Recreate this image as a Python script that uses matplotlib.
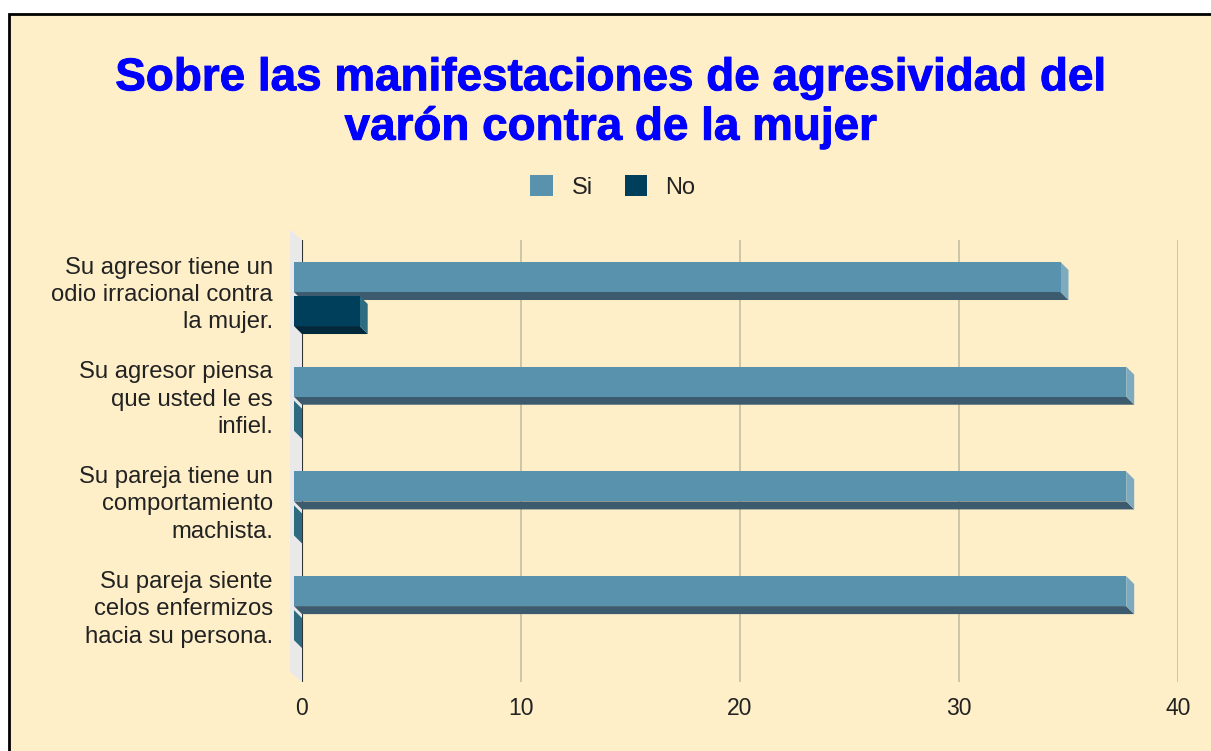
import matplotlib

matplotlib.use("Agg")
import matplotlib.pyplot as plt
import matplotlib.patheffects as pe
from matplotlib.patches import Rectangle, Patch

CATEGORIES = [
    "Su agresor tiene un\nodio irracional contra\nla mujer.",
    "Su agresor piensa\nque usted le es\ninfiel.",
    "Su pareja tiene un\ncomportamiento\nmachista.",
    "Su pareja siente\ncelos enfermizos\nhacia su persona.",
]
SI = [35, 38, 38, 38]
NO = [3, 0, 0, 0]
XTICKS = [0, 10, 20, 30, 40]
SERIES = ["Si", "No"]
TITLE = "Sobre las manifestaciones de agresividad del\nvarón contra de la mujer"

BG = "#feefc9"
# (front, bottom face, side face)
SI_COLS = ("#5992ad", "#3c5b6f", "#7eaac0")
NO_COLS = ("#003f5c", "#00283b", "#2d6b81")

plt.rcParams["font.family"] = ["Liberation Sans", "DejaVu Sans"]

W, H = 1211, 751
fig = plt.figure(figsize=(W / 100, H / 100), dpi=100)
fig.patch.set_facecolor("white")
fig.add_artist(Rectangle((9 / W, -0.05), 1.1, 1.05 - 14 / H, transform=fig.transFigure,
                         facecolor=BG, edgecolor="black", lw=2, zorder=0))

ax = fig.add_axes([302 / W, 69 / H, 876 / W, 442 / H])
ax.patch.set_visible(False)
PX_X = 876 / 40
PX_Y = 104.7
ytop = -(294 - 240) / PX_Y
ybot = ytop + 442 / PX_Y
ax.set_xlim(0, 40)
ax.set_ylim(ybot, ytop)

# 3d depth offsets (data units)
dx, dy = 8 / PX_X, 8 / PX_Y
wx, wy = 12 / PX_X, 10 / PX_Y

# left wall
ax.fill([-wx, 0, 0, -wx], [ytop - wy, ytop, ybot, ybot - wy], color="#e9e9e9",
        lw=0, zorder=1, clip_on=False)
for t in XTICKS[1:]:
    ax.axvline(t, color="#cdc5a8", lw=1.4, zorder=1)
ax.axvline(0, color="#333333", lw=1.5, zorder=2)

h = 0.287
for i, (s, n) in enumerate(zip(SI, NO)):
    for val, top, cols in [(s, i - 0.306, SI_COLS), (n, i + 0.019, NO_COLS)]:
        bot = top + h
        x0, x1 = -dx, val - dx
        ax.fill([x0, x1, x1 + dx, x0 + dx], [bot, bot, bot + dy, bot + dy],
                color=cols[1], lw=0, zorder=3, clip_on=False)
        ax.fill([x1, x1 + dx, x1 + dx, x1], [top, top + dy, bot + dy, bot],
                color=cols[2], lw=0, zorder=3, clip_on=False)
        bars = ax.barh(top + h / 2, val, left=x0, height=h, color=cols[0], lw=0, zorder=4)
        for b in bars:
            b.set_clip_on(False)
    ax.text(-29 / PX_X, i + 0.01, CATEGORIES[i], ha="right", va="center", fontsize=17.2,
            linespacing=1.32, color="#222222")

ax.set_xticks(XTICKS)
ax.set_yticks([])
ax.tick_params(axis="x", length=0, pad=11, labelsize=16.5, labelcolor="#222222")
for sp in ax.spines.values():
    sp.set_visible(False)

fig.text(611 / W, 1 - 103 / H, TITLE, ha="center", va="center", fontsize=33,
         weight="bold", color="#0000ff", linespacing=1.16,
         path_effects=[pe.withStroke(linewidth=0.7, foreground="#0000ff")])

handles = [Patch(facecolor=SI_COLS[0]), Patch(facecolor=NO_COLS[0])]
fig.legend(handles, SERIES, loc="center", bbox_to_anchor=(613 / W, 1 - 187 / H), ncol=2,
           frameon=False, fontsize=17, handlelength=0.97, handleheight=0.97,
           handletextpad=0.77, columnspacing=1.35, labelcolor="#222222")

fig.savefig("out.png", dpi=100)
